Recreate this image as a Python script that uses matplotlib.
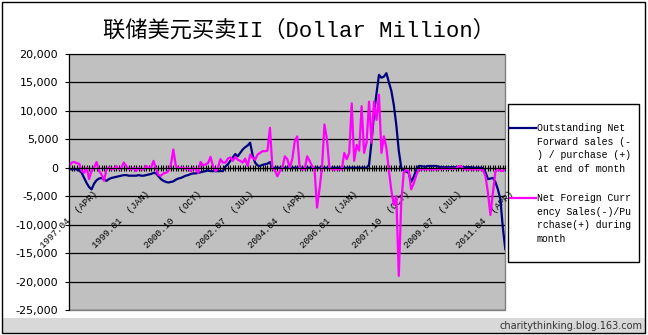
import matplotlib
matplotlib.use('Agg')
from matplotlib import pyplot as plt
from matplotlib.patches import Rectangle
from matplotlib.lines import Line2D

plt.rcParams['axes.unicode_minus'] = False

title = '联储美元买卖II（Dollar Million）'

# monthly data, 1997.04 .. 2011.12 (US$ million)
tick_pos = [0, 21, 42, 63, 84, 105, 126, 147, 168]
tick_labels = ['1997.04  (APR)', '1999.01  (JAN)', '2000.10  (OCT)',
               '2002.07  (JUL)', '2004.04  (APR)', '2006.01  (JAN)',
               '2007.10  (OCT)', '2009.07  (JUL)', '2011.04  (APR)']

forward = [
    -200, -300, -200, -300, -500,
    -900, -1800, -2700, -3400, -3800,
    -2800, -2200, -1900, -1800, -2100,
    -2300, -2000, -1800, -1700, -1600,
    -1500, -1400, -1300, -1300, -1400,
    -1400, -1400, -1400, -1300, -1400,
    -1400, -1300, -1200, -1100, -900,
    -1000, -1500, -2000, -2300, -2500,
    -2600, -2500, -2400, -2100, -1900,
    -1800, -1600, -1400, -1300, -1100,
    -1000, -1000, -900, -800, -700,
    -600, -500, -600, -600, -600,
    -600, -600, -600, 200, 600,
    1200, 1800, 2400, 2000, 2600,
    3200, 3600, 3900, 4400, 2200,
    900, 400, 300, 500, 600,
    700, 1000, -100, 0, 0,
    0, 0, 0, 0, 0,
    0, 0, 0, 0, 0,
    0, 0, 0, 0, 0,
    0, 0, 0, 0, 0,
    0, 0, 0, 0, 0,
    0, 0, 0, 0, 0,
    0, 0, 0, 0, 0,
    0, 500, 4500, 9500, 13000,
    16300, 15800, 16000, 16600, 15000,
    13500, 11000, 7500, 3000, 0,
    -500, -700, -900, -2500, -1600,
    -500, 300, 300, 200, 200,
    300, 300, 300, 300, 200,
    100, 100, 100, 100, 100,
    100, 100, 100, 100, 100,
    100, 100, 100, 0, 0,
    0, 0, -100, -800, -2000,
    -1900, -1800, -2500, -3800, -5500,
    -10500, -14300,
]

net_sales = [
    300, 900, 1000, 800, 700,
    -600, -900, 0, -2000, -500,
    0, 1000, -600, -1200, -2300,
    -300, 100, -300, -200, 300,
    -300, 0, 900, 300, -200,
    -300, 0, -600, 0, -300,
    -300, 300, 0, 0, 1200,
    -200, -1300, -1400, -1000, -900,
    -600, 500, 3200, 300, 0,
    0, 0, -300, 0, -600,
    0, -300, -900, 1000, 400,
    600, 800, 1900, 300, -600,
    0, 1500, 900, 900, 1600,
    1800, 1200, 1900, 1400, 1200,
    900, 1600, 300, 2300, 1700,
    1400, 2300, 2600, 2900, 2900,
    3000, 7000, -100, -500, -1500,
    -600, 0, 2000, 1500, 0,
    1500, 4600, 5500, 0, -300,
    -300, 2000, 1200, 300, -300,
    -7000, -3800, 0, 7600, 5000,
    0, -300, -300, -300, -300,
    -300, 2600, 1500, 2600, 11300,
    1200, 4000, 3000, 10800, 2600,
    4400, 11600, 4400, 11600, 8400,
    12800, 2600, 5500, 3500, -500,
    -4000, -6500, -5000, -19000, -6100,
    -800, -400, -600, -3800, -2800,
    -1400, -300, -300, -300, -300,
    -300, -300, -300, -300, -300,
    -200, -200, -200, -200, -200,
    -200, -200, 200, 300, -200,
    -300, -300, -300, -300, -300,
    -300, -300, -400, -1500, -4400,
    -8300, -4400, -700, -300, -500,
    -600, -300,
]

legend1 = ['Outstanding Net', 'Forward sales (-', ') / purchase (+)', 'at end of month']
legend2 = ['Net Foreign Curr', 'ency Sales(-)/Pu', 'rchase(+) during', 'month']

navy = '#000080'
pink = '#ff00ff'
W, H = 648.0, 335.0

months = list(range(len(forward)))

fig = plt.figure(figsize=(6.48, 3.35), dpi=100)

# outer frame + watermark strip
fig.add_artist(Rectangle((2 / W, 2 / H), 643 / W, 15 / H, transform=fig.transFigure,
                         facecolor='#d8d8d8', edgecolor='none'))
fig.add_artist(Rectangle((2 / W, 2 / H), 643 / W, 331 / H, transform=fig.transFigure,
                         fill=False, edgecolor='black', lw=1))
fig.text(643 / W, 9 / H, 'charitythinking.blog.163.com', ha='right', va='center',
         fontsize=7, color='#333333')

ax = fig.add_axes([69.3 / W, 1 - 310.1 / H, 436 / W, 256.3 / H])
ax.set_facecolor('#c0c0c0')
ax.patch.set_edgecolor('#808080')
ax.patch.set_linewidth(1)

ax.plot(months, forward, color=navy, lw=1.6)
ax.plot(months, net_sales, color=pink, lw=1.6)

ax.set_xlim(0, len(months) - 1)
ax.set_ylim(-25000, 20000)
yt = list(range(-25000, 20001, 5000))
ax.set_yticks(yt, ['{:,}'.format(v) for v in yt])
ax.yaxis.grid(True, color='black', lw=0.9)
ax.set_axisbelow(True)

ax.spines['top'].set_visible(False)
ax.spines['right'].set_visible(False)
ax.spines['left'].set_color('black')
ax.spines['bottom'].set_position(('data', 0))
ax.spines['bottom'].set_color('black')
ax.spines['bottom'].set_zorder(3)

ax.set_xticks(tick_pos, tick_labels)
ax.set_xticks(months, minor=True)
ax.tick_params(axis='x', which='both', direction='inout', length=4, width=0.8)
ax.tick_params(axis='x', which='major', pad=35, labelsize=6.7, labelrotation=45)
ax.tick_params(axis='y', direction='out', length=3, pad=5, labelsize=8)
for lab in ax.get_xticklabels():
    lab.set_ha('center')
    lab.set_va('center')
    lab.set_fontfamily('Liberation Mono')

fig.text(299 / W, 1 - 31 / H, title, ha='center', va='center', fontsize=16,
         family=['Liberation Mono', 'Noto Sans CJK SC'])

# legend box
fig.add_artist(Rectangle((508 / W, 1 - 262 / H), 131 / W, 158 / H, transform=fig.transFigure,
                         fill=False, edgecolor='black', lw=1))
for lines, color, y0 in [(legend1, navy, 128), (legend2, pink, 198)]:
    fig.add_artist(Line2D([510 / W, 536 / W], [1 - y0 / H] * 2, transform=fig.transFigure,
                          color=color, lw=1.6))
    for k, s in enumerate(lines):
        fig.text(537 / W, 1 - (y0 + k * 13.7) / H, s, ha='left', va='center',
                 fontsize=7.1, family='Liberation Mono')

fig.savefig('out.png', dpi=100)
